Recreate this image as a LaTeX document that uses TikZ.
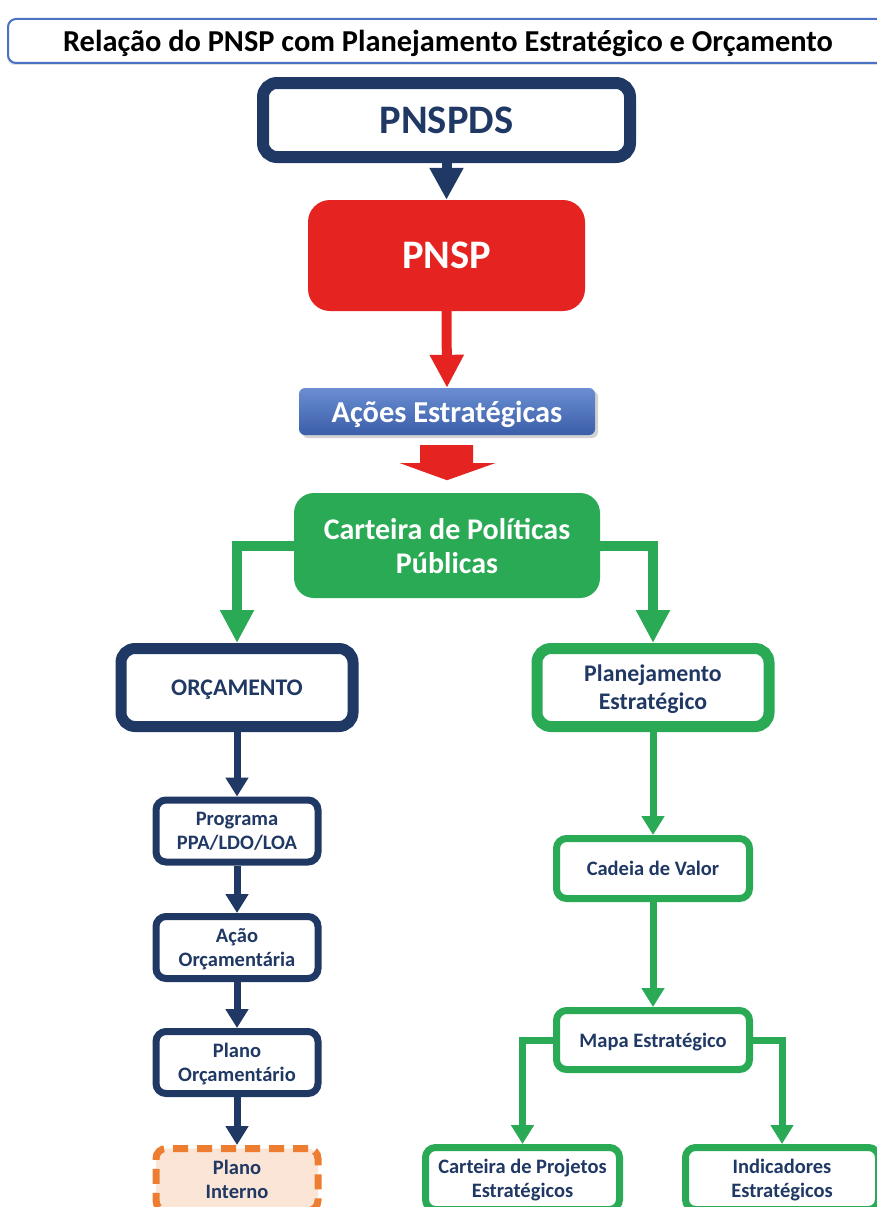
\documentclass[tikz,border=0pt]{standalone}
\usepackage{fontspec}
\setmainfont{Carlito}
\usetikzlibrary{arrows.meta,calc,shadows}
\definecolor{navy}{HTML}{203864}
\definecolor{pgreen}{HTML}{2BAA55}
\definecolor{pred}{HTML}{E52421}
\definecolor{porange}{HTML}{ED7D31}
\definecolor{peach}{HTML}{FBE5D6}
\definecolor{tblue}{HTML}{4A72C2}
\definecolor{ablue1}{HTML}{6B8ED2}
\definecolor{ablue2}{HTML}{3A5EA8}
\begin{document}
\begin{tikzpicture}[x=1pt,y=-1pt,
  base/.style={rectangle, align=center, inner sep=0pt, text=navy, text depth=0pt},
  navybox/.style={base, draw=navy, fill=white, line width=#1},
  greenbox/.style={base, draw=pgreen, fill=white, line width=#1},
  fbig/.style={font=\fontsize{40.5}{46}\selectfont\bfseries},
  fmid/.style={font=\fontsize{23.8}{28}\selectfont\bfseries},
  fsmall/.style={font=\fontsize{20.5}{24.5}\selectfont\bfseries},
  smallbox/.style={minimum width=162pt, minimum height=62pt, rounded corners=10pt},
  rbox/.style={minimum width=193pt, minimum height=61pt, rounded corners=10pt},
  navyarrow/.style={draw=navy, line width=7pt, -{Triangle[width=22pt,length=19pt]}},
  greenarrow/.style={draw=pgreen, line width=7pt, line join=miter, -{Triangle[width=22pt,length=19pt]}},
  bigarrow/.style={line width=10pt, line join=miter, -{Triangle[width=32pt,length=32pt]}}
]
\useasboundingbox (0,0) rectangle (877,1207);
\fill[white] (0,0) rectangle (877,1207);
\clip (0,0) rectangle (877,1207);

% title
\node[base, text=black, draw=tblue, line width=2pt, fill=white, rounded corners=8pt,
  minimum width=880pt, minimum height=44pt,
  drop shadow={shadow xshift=-1pt, shadow yshift=-2pt, opacity=.25},
  font=\fontsize{30.4}{34}\selectfont\bfseries] (title) at (448,41)
  {Relação do PNSP com Planejamento Estratégico e Orçamento};

% top chain
\node[navybox=12pt, fbig, minimum width=367pt, minimum height=74pt, rounded corners=14pt] (pnspds) at (446.5,120) {PNSPDS};
\node[base, fill=pred, text=white, fbig, text depth=-5pt, minimum width=277pt, minimum height=111pt, rounded corners=22pt] (pnsp) at (446.5,255.5) {PNSP};
\node[base, text=white, top color=ablue1, bottom color=ablue2, rounded corners=6pt,
  minimum width=296pt, minimum height=47pt,
  drop shadow={shadow xshift=3pt, shadow yshift=-3pt, opacity=.35},
  font=\fontsize{30.4}{34}\selectfont\bfseries] (acoes) at (447,411.5) {Ações Estratégicas};
\node[base, fill=pgreen, text=white, rounded corners=20pt, minimum width=306pt, minimum height=105pt,
  font=\fontsize{30}{34}\selectfont\bfseries] (carteira) at (447,545.5) {Carteira de Políticas\\Públicas};

\draw[bigarrow, navy] (pnspds.south) -- (pnsp.north);
\draw[bigarrow, pred, -{Triangle[width=32pt,length=33pt]}] (pnsp.south) -- (acoes.north);
\fill[pred] ($(acoes.south)+(-27,10)$) -- ++(53,0) -- ++(0,18) -- ++(22,0)
  -- ($(acoes.south)+(0,45)$) -- ($(acoes.south)+(-47,28)$) -- ($(acoes.south)+(-27,28)$) -- cycle;

% second level
\node[navybox=11pt, fmid, minimum width=232pt, minimum height=78pt, rounded corners=14pt] (orc) at (237,687.5) {ORÇAMENTO};
\node[greenbox=11pt, fmid, minimum width=232pt, minimum height=78pt, rounded corners=14pt] (plan) at (653,687.5) {Planejamento\\Estratégico};

\draw[bigarrow, pgreen, -{Triangle[width=32pt,length=33pt]}] (carteira.west) -| (orc.north);
\draw[bigarrow, pgreen, -{Triangle[width=32pt,length=33pt]}] (carteira.east) -| (plan.north);

% left column
\node[navybox=7pt, fsmall, smallbox] (prog) at (237,831) {Programa\\PPA/LDO/LOA};
\node[navybox=7pt, fsmall, smallbox] (acao) at (237,947.5) {Ação\\Orçamentária};
\node[navybox=7pt, fsmall, smallbox] (plorc) at (237,1062.5) {Plano\\Orçamentário};
\node[base, draw=porange, fill=peach, line width=7pt, dash pattern=on 15pt off 9pt, fsmall, smallbox] (plint) at (237,1179.5) {Plano\\Interno};

\draw[navyarrow] (orc.south) -- (prog.north);
\draw[navyarrow] (prog.south) -- (acao.north);
\draw[navyarrow] (acao.south) -- (plorc.north);
\draw[navyarrow] (plorc.south) -- (plint.north);

% right column
\node[greenbox=7pt, fsmall, rbox, minimum height=60pt] (cadeia) at (653,868.5) {Cadeia de Valor};
\node[greenbox=7pt, fsmall, rbox, minimum height=59pt] (mapa) at (653,1040) {Mapa Estratégico};
\node[greenbox=7pt, fsmall, rbox, minimum width=194pt, minimum height=62pt] (proj) at (522.5,1178.5) {Carteira de Projetos\\Estratégicos};
\node[greenbox=7pt, fsmall, rbox, minimum height=62pt] (ind) at (782,1178.5) {Indicadores\\Estratégicos};

\draw[greenarrow] (plan.south) -- (cadeia.north);
\draw[greenarrow] (cadeia.south) -- (mapa.north);
\draw[greenarrow] (mapa.west) -| (proj.north);
\draw[greenarrow] (mapa.east) -| (ind.north);
\end{tikzpicture}
\end{document}
